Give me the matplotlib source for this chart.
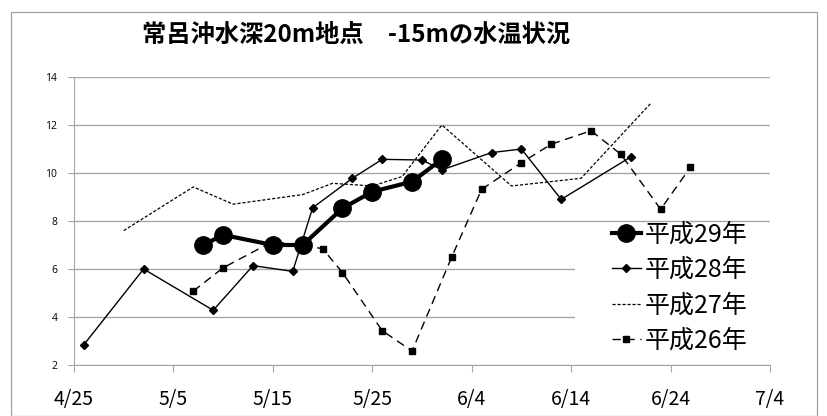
import pandas as pd
import matplotlib
matplotlib.use('Agg')
import matplotlib.pyplot as plt
from matplotlib.patches import Rectangle

plt.rcParams['font.family'] = ['Noto Sans CJK JP', 'DejaVu Sans']

# water temperature (deg C) at -15m
h29_dates = ['5/8', '5/10', '5/15', '5/18', '5/22', '5/25', '5/29', '6/1']
h29_temp = [7.0, 7.42, 7.0, 7.0, 8.53, 9.22, 9.64, 10.57]

h28_dates = ['4/26', '5/2', '5/9', '5/13', '5/17', '5/19', '5/23', '5/26',
             '5/30', '6/1', '6/6', '6/9', '6/13', '6/20']
h28_temp = [2.85, 6.0, 4.28, 6.14, 5.9, 8.55, 9.78, 10.57,
            10.54, 10.13, 10.85, 11.0, 8.9, 10.67]

h27_dates = ['4/30', '5/7', '5/11', '5/18', '5/21', '5/25', '5/28', '6/1',
             '6/8', '6/15', '6/22']
h27_temp = [7.6, 9.42, 8.7, 9.1, 9.57, 9.46, 9.85, 12.0,
            9.46, 9.78, 12.9]

h26_dates = ['5/7', '5/10', '5/15', '5/20', '5/22', '5/26', '5/29', '6/2',
             '6/5', '6/9', '6/12', '6/16', '6/19', '6/23', '6/26']
h26_temp = [5.08, 6.05, 7.15, 6.85, 5.85, 3.43, 2.58, 6.51,
            9.32, 10.43, 11.2, 11.76, 10.78, 8.49, 10.24]

x_ticks = ['4/25', '5/5', '5/15', '5/25', '6/4', '6/14', '6/24', '7/4']
y_ticks = [2, 4, 6, 8, 10, 12, 14]


def to_date(md):
    # all years put on one common month/day axis
    return pd.to_datetime('2017/' + md, format='%Y/%m/%d')


def md_list(lst):
    return [to_date(s) for s in lst]


fig = plt.figure(figsize=(8.27, 4.16), dpi=100)
ax = fig.add_axes([74 / 827, 1 - 365 / 416, 696 / 827, 288 / 416])

# chart border
fig.patches.append(Rectangle((11 / 827, 0.5 / 416), 806 / 827, 404 / 416,
                             transform=fig.transFigure, fill=False,
                             edgecolor='#a0a0a0', linewidth=0.9))

ax.plot(md_list(h29_dates), h29_temp, color='black', linewidth=3.0,
        marker='o', markersize=12.5, label='平成29年', zorder=5)
ax.plot(md_list(h28_dates), h28_temp, color='black', linewidth=1.0,
        marker='D', markersize=4, label='平成28年', zorder=4)
ax.plot(md_list(h27_dates), h27_temp, color='black', linewidth=0.9,
        linestyle=(0, (2.5, 1.5)), label='平成27年', zorder=3)
ax.plot(md_list(h26_dates), h26_temp, color='black', linewidth=1.0,
        linestyle=(0, (6, 4)), marker='s', markersize=5, label='平成26年', zorder=3)

ax.set_xlim(to_date('4/25'), to_date('7/4'))
ax.set_ylim(2, 14)
ax.set_xticks(md_list(x_ticks))
ax.set_xticklabels(x_ticks, fontsize=14)
ax.set_yticks(y_ticks)
ax.set_yticklabels([str(v) for v in y_ticks], fontsize=7.5,
                   family=['Open Sans', 'DejaVu Sans'])

ax.yaxis.grid(True, color='#a6a6a6', linewidth=1.0)
ax.set_axisbelow(True)
for s in ['top', 'right']:
    ax.spines[s].set_visible(False)
for s in ['left', 'bottom']:
    ax.spines[s].set_color('#a6a6a6')
ax.tick_params(axis='x', length=5, color='#a6a6a6', pad=12)
ax.tick_params(axis='y', length=4, color='#a6a6a6', pad=8)

# white area behind the legend
ax.add_patch(Rectangle((0.72, 0.035), 0.28, 0.458, transform=ax.transAxes,
                       facecolor='white', edgecolor='none', zorder=1))

ax.legend(loc='center left', bbox_to_anchor=(0.773, 0.268), frameon=False,
          fontsize=18, handlelength=1.15, handletextpad=0.15, labelspacing=0.38,
          borderpad=0, borderaxespad=0)

fig.text(356 / 827, 1 - 35 / 416, '常呂沖水深20m地点　-15mの水温状況',
         ha='center', va='center', fontsize=17.5, fontweight='bold')

fig.savefig('out.png', dpi=100)
